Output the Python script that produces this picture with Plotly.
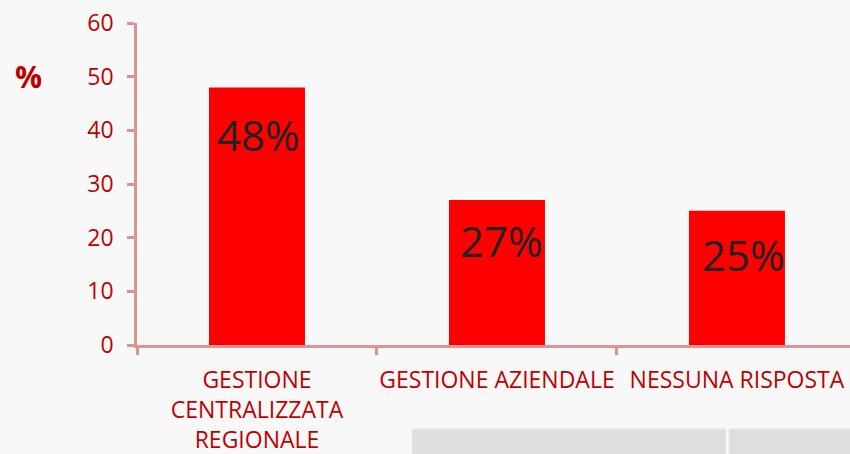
import plotly.graph_objects as go

# Survey answers (share of respondents, %)
categories = ["GESTIONE<br>CENTRALIZZATA<br>REGIONALE", "GESTIONE AZIENDALE", "NESSUNA RISPOSTA"]
values = [48, 27, 25]
y_ticks = [0, 10, 20, 30, 40, 50, 60]

RED = "#ff0000"
DARK_RED = "#c00000"
AXIS = "#d99594"
BG = "#f8f8f8"
FONT = "Open Sans"

# per-bar placement of the value labels inside the bars (pixels)
label_dx = [2, 5, 7]
label_dy = [-47, -40, -44]

fig = go.Figure()
fig.add_trace(go.Bar(
    x=categories,
    y=values,
    width=0.4,
    marker=dict(color=RED, line=dict(width=0)),
    hoverinfo="skip",
))

for c, v, dx, dy in zip(categories, values, label_dx, label_dy):
    fig.add_annotation(
        x=c, y=v, text=f"{v}%", showarrow=False,
        xanchor="center", yanchor="middle", xshift=dx, yshift=dy,
        font=dict(family=FONT, size=42, color="#222222"),
    )

# "%" unit label beside the y axis
fig.add_annotation(
    xref="paper", yref="paper", x=-0.152, y=0.835, text="<b>%</b>",
    showarrow=False, xanchor="center", yanchor="middle",
    font=dict(family=FONT, size=30, color=DARK_RED),
)

# grey table cells peeking in at the bottom of the slide
for x0, x1 in [(0.386, 0.8256), (0.8305, 1.02)]:
    fig.add_shape(
        type="rect", xref="paper", yref="paper",
        x0=x0, x1=x1, y0=-0.261, y1=-0.4,
        fillcolor="#dedede", line=dict(color="#e6e6e6", width=1), layer="below",
    )

fig.update_layout(
    width=850, height=454,
    margin=dict(l=137, r=0, t=23, b=109, autoexpand=False),
    paper_bgcolor=BG, plot_bgcolor=BG,
    showlegend=False,
    bargap=0.6,
    xaxis=dict(
        type="category",
        range=[-0.5, 2.471],
        showline=True, linecolor=AXIS, linewidth=2.5,
        ticks="outside", tickson="boundaries", ticklen=7, tickwidth=2.5, tickcolor=AXIS,
        tickfont=dict(family=FONT, size=23, color=DARK_RED),
        tickangle=0, automargin=False,
        ticklabelstandoff=13,
        showgrid=False, zeroline=False, fixedrange=True,
    ),
    yaxis=dict(
        range=[0, 60],
        tickvals=y_ticks,
        showline=True, linecolor=AXIS, linewidth=2.5,
        ticks="outside", ticklen=7, tickwidth=2.5, tickcolor=AXIS,
        tickfont=dict(family=FONT, size=23, color=DARK_RED),
        automargin=False,
        ticklabelstandoff=9,
        showgrid=False, zeroline=False, fixedrange=True,
    ),
)

fig.write_html("out.html")
